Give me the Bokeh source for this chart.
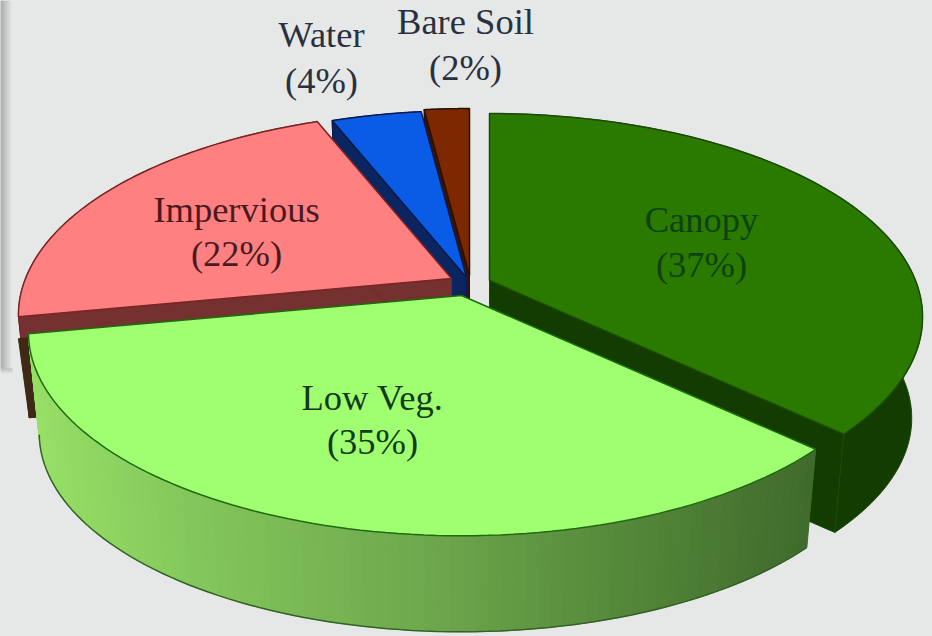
import numpy as np
from bokeh.core.properties import value
from bokeh.embed import file_html
from bokeh.models import ColumnDataSource
from bokeh.plotting import figure
from bokeh.resources import INLINE

# ---- data ----
categories = ["Canopy", "Low Veg.", "Impervious", "Water", "Bare Soil"]
shares = [37, 35, 22, 4, 2]

# ---- styling and layout ----
BG = "#e6e8e8"
top_colors = ["#2a7a00", "#a0ff70", "#ff8080", "#0a5ce6", "#7d2800"]
wall_colors = ["#133c00", "#6aa84a", "#753030", "#0a2560", "#3a1400"]
outer_colors = ["#133c00", "#6aa84a", "#3e2a14", "#0a2560", "#3a1400"]
edge_colors = ["#1c4a08", "#1f6a10", "#7a2424", "#0a1a50", "#2a1000"]
text_colors = ["#0f4212", "#143a18", "#4a1a22", "#2a3040", "#2a3040"]
centers = {"Canopy": (489, 280), "Low Veg.": (461, 295), "Impervious": (451, 278),
           "Water": (466, 277), "Bare Soil": (469, 275)}
label_pos = {"Canopy": (701, 219, 264), "Low Veg.": (372, 397, 441),
             "Impervious": (236, 209, 253), "Water": (321, 34, 80),
             "Bare Soil": (465, 21, 67)}
A, B, K = 426.0, 197.0, 0.18      # ellipse half axes and perspective strength
SCALE, DEPTH = 0.975, 102.0       # lower rim shrink and thickness
BAND = 22.0                       # height of the lit part of the Impervious wall


def rim(cx, cy, t0, t1, n=90, lower=False):
    """Perspective circle arc, t in degrees clockwise from 12 o'clock."""
    t = np.radians(np.linspace(t0, t1, n))
    u, v = np.sin(t), np.cos(t)
    w = 1 + K * v
    dx, dy = A * u / w, -B * v / w
    if lower:
        return cx + SCALE * dx, cy + SCALE * dy + DEPTH
    return cx + dx, cy + dy


def mix(stops, f):
    xs = [s[0] for s in stops]
    chans = [np.interp(f, xs, [int(s[1][i:i + 2], 16) for s in stops]) for i in (1, 3, 5)]
    return "#%02x%02x%02x" % tuple(int(round(c)) for c in chans)


fracs = np.cumsum([0] + shares) / sum(shares) * 360
angles = {c: (fracs[i], fracs[i + 1]) for i, c in enumerate(categories)}
idx = {c: i for i, c in enumerate(categories)}

p = figure(width=932, height=636, x_range=(0, 932), y_range=(636, 0),
           output_backend="svg", toolbar_location=None, min_border=0,
           background_fill_color=BG, border_fill_color=BG, outline_line_color=None)
p.axis.visible = False
p.grid.visible = False

# shadow of a page frame on the left
shadow = [mix([(0, "#989898"), (1, "#e4e6e6")], s / 11) for s in range(12)]
p.quad(left=list(range(12)), right=list(range(1, 13)), top=[0] * 12, bottom=[368] * 12,
       fill_color=shadow, line_color=None)
fade = [mix([(0, "#b0b0b0"), (1, BG)], s / 5) for s in range(6)]
p.quad(left=[0] * 6, right=[12] * 6, top=list(range(368, 374)), bottom=list(range(369, 375)),
       fill_color=fade, line_color=None)

order = ["Bare Soil", "Water", "Impervious", "Canopy", "Low Veg."]
visible_radial = {"Bare Soil": "start", "Water": "start", "Impervious": "both",
                  "Canopy": "end", "Low Veg.": None}
gradient = [(0.0, "#98e066"), (0.2, "#84c85c"), (0.5, "#6fa94e"), (0.75, "#568a3a"), (1.0, "#3f6b2c")]

for name in order:
    i = idx[name]
    cx, cy = centers[name]
    t0, t1 = angles[name]
    ux, uy = rim(cx, cy, t0, t1)
    lx, ly = rim(cx, cy, t0, t1, lower=True)
    if name == "Low Veg.":
        xs, ys, cols = [], [], []
        span = ux.max() - ux.min()
        for j in range(len(ux) - 1):
            xs.append([ux[j], ux[j + 1], lx[j + 1], lx[j]])
            ys.append([uy[j], uy[j + 1], ly[j + 1], ly[j]])
            cols.append(mix(gradient, (ux[j] - ux.min()) / span))
        p.patches(xs, ys, fill_color=cols, line_color=cols, line_width=1)
        p.line(lx, ly, line_color="#35602a", line_width=1.5)
    else:
        p.patch(np.r_[ux, lx[::-1]], np.r_[uy, ly[::-1]],
                fill_color=outer_colors[i], line_color=edge_colors[i], line_width=1)
    vis = visible_radial[name]
    walls = {"start": [t0], "end": [t1], "both": [t0, t1], None: []}[vis]
    for t in walls:
        ex, ey = rim(cx, cy, t, t, 1)
        bx, by = rim(cx, cy, t, t, 1, lower=True)
        p.patch([cx, ex[0], bx[0], cx], [cy, ey[0], by[0], cy + DEPTH],
                fill_color=wall_colors[i], line_color=edge_colors[i], line_width=1)
        if name == "Impervious" and t == t0:
            p.patch([cx, ex[0], ex[0], bx[0], cx],
                    [cy + BAND, ey[0] + BAND, ey[0] + BAND, by[0], cy + DEPTH],
                    fill_color=outer_colors[i], line_color=outer_colors[i], line_width=1)
    p.patch(np.r_[cx, ux], np.r_[cy, uy], fill_color=top_colors[i],
            line_color=edge_colors[i], line_width=1.5)

rows = {"x": [], "y": [], "t": [], "c": []}
for name, s in zip(categories, shares):
    x, y1, y2 = label_pos[name]
    for y, t in ((y1, name), (y2, f"({s}%)")):
        rows["x"].append(x)
        rows["y"].append(y)
        rows["t"].append(t)
        rows["c"].append(text_colors[idx[name]])
p.text("x", "y", text="t", source=ColumnDataSource(rows), text_color="c",
       text_font=value("Liberation Serif"), text_font_size="36.5px",
       text_align="center", text_baseline="middle")

html = file_html(p, INLINE)
html = html.replace("<body>", f'<body style="margin:0;overflow:hidden;background:{BG}">')
open("out.html", "w").write(html)
